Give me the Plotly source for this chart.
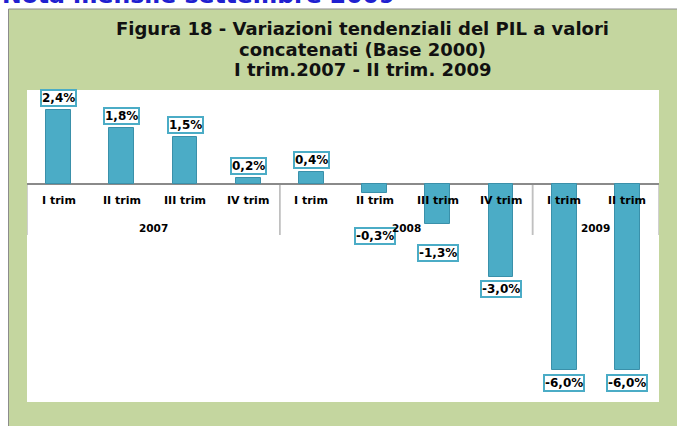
import plotly.graph_objects as go

# ---- data ----
quarters = ["I trim", "II trim", "III trim", "IV trim",
            "I trim", "II trim", "III trim", "IV trim",
            "I trim", "II trim"]
years = ["2007", "2007", "2007", "2007",
         "2008", "2008", "2008", "2008",
         "2009", "2009"]
values = [2.4, 1.8, 1.5, 0.2, 0.4, -0.3, -1.3, -3.0, -6.0, -6.0]
value_labels = ["2,4%", "1,8%", "1,5%", "0,2%", "0,4%",
                "-0,3%", "-1,3%", "-3,0%", "-6,0%", "-6,0%"]

# label nudges (pixels, Excel labels moved by hand)
label_shift = [3, 3, 3, 3, 3, -34, -20, -3, -4, -4]

title_lines = ["Figura 18 - Variazioni tendenziali del PIL a valori",
               "concatenati (Base 2000)",
               "I trim.2007 - II trim. 2009"]
header_text = "Nota mensile settembre 2009"

W, H = 677, 426
FONT = "Verdana, DejaVu Sans, sans-serif"
BAR = "#4bacc6"
BAR_LINE = "#3a90aa"

xs = list(range(len(values)))

fig = go.Figure()
fig.add_trace(go.Bar(
    x=xs, y=values, width=0.39,
    marker=dict(color=BAR, line=dict(color=BAR_LINE, width=1)),
    hoverinfo="skip", showlegend=False,
))

annotations = []
# data labels
for x, v, t, s in zip(xs, values, value_labels, label_shift):
    annotations.append(dict(
        x=x, y=v, xref="x", yref="y", text="<b>%s</b>" % t, showarrow=False,
        yanchor="bottom" if v >= 0 else "top", yshift=s,
        font=dict(family=FONT, size=12, color="black"),
        bgcolor="white", bordercolor=BAR, borderwidth=2, borderpad=0,
    ))
# category tick labels
for x, q in zip(xs, quarters):
    annotations.append(dict(
        x=x, y=0, xref="x", yref="y", text="<b>%s</b>" % q, showarrow=False,
        yanchor="middle", yshift=-17,
        font=dict(family=FONT, size=11, color="black"),
    ))
# year group labels and dividers
groups = []
for y in years:
    if y not in groups:
        groups.append(y)
shapes = []
for g in groups:
    idx = [i for i, y in enumerate(years) if y == g]
    c = sum(idx) / len(idx)
    annotations.append(dict(
        x=c, y=0, xref="x", yref="y", text="<b>%s</b>" % g, showarrow=False,
        yanchor="middle", yshift=-44,
        font=dict(family=FONT, size=10.5, color="black"),
    ))
    for edge in (min(idx) - 0.5, max(idx) + 0.5):
        shapes.append(dict(
            type="line", xref="x", yref="y", ysizemode="pixel", yanchor=0,
            x0=edge, x1=edge, y0=0, y1=-51,
            line=dict(color="#c0c0c0", width=1.5), layer="below",
        ))

# background panels
shapes.insert(0, dict(type="rect", xref="paper", yref="paper",
                      x0=8.5 / W, x1=1.01, y0=-0.01, y1=1 - 9 / H,
                      fillcolor="#c4d69f", line=dict(color="#8c8c8c", width=1),
                      layer="below"))
shapes.insert(1, dict(type="rect", xref="paper", yref="paper",
                      x0=27 / W, x1=659 / W, y0=1 - 402 / H, y1=1 - 90 / H,
                      fillcolor="white", line=dict(width=0), layer="below"))

# title (three lines)
for line, yc in zip(title_lines, [28, 49.5, 69.5]):
    annotations.append(dict(
        x=362.5 / W, y=1 - yc / H, xref="paper", yref="paper",
        text="<b>%s</b>" % line, showarrow=False,
        xanchor="center", yanchor="middle", align="center",
        font=dict(family="Tahoma, DejaVu Sans, sans-serif", size=18, color="#111111"),
    ))
# cropped page header
annotations.append(dict(
    x=0, y=1 - 11 / H, xref="paper", yref="paper",
    text="<b>%s</b>" % header_text, showarrow=False,
    xanchor="left", yanchor="bottom",
    font=dict(family=FONT, size=23.5, color="#2020d0"),
))

fig.update_layout(
    width=W, height=H,
    margin=dict(l=0, r=0, t=0, b=0),
    paper_bgcolor="white", plot_bgcolor="rgba(0,0,0,0)",
    xaxis=dict(domain=[27 / W, 659 / W], range=[-0.5, 9.5],
               showticklabels=False, showgrid=False, zeroline=False,
               ticks="", fixedrange=True),
    yaxis=dict(domain=[1 - 402 / H, 1 - 90 / H], range=[-7.03, 3.03],
               showticklabels=False, showgrid=False, ticks="",
               zeroline=True, zerolinecolor="#8a8a8a", zerolinewidth=1.5,
               fixedrange=True),
    shapes=shapes,
    annotations=annotations,
    bargap=0,
)

fig.write_html("out.html",
               config={"displayModeBar": False},
               post_script="document.body.style.margin='0';"
                           "document.body.style.overflow='hidden';")
